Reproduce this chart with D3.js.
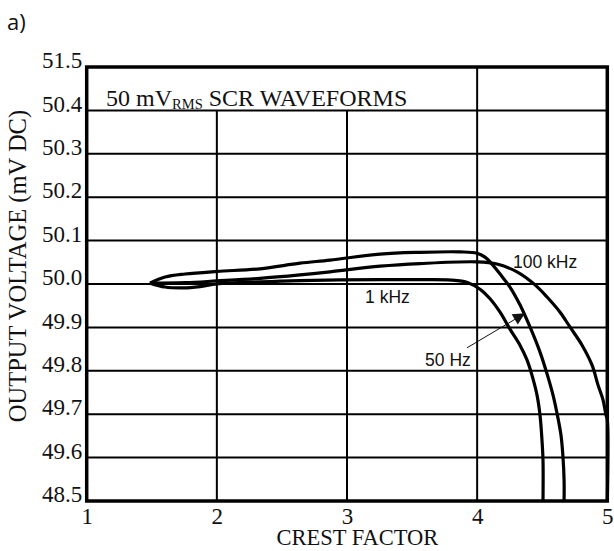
<!DOCTYPE html>
<html>
<head>
<meta charset="utf-8">
<script src="https://cdn.jsdelivr.net/npm/d3@7"></script>
<style>
  html, body { margin: 0; padding: 0; background: #fff; }
  svg { display: block; }
</style>
</head>
<body>
<svg id="chart" width="614" height="551"></svg>
<script>
// ---- Data (y is plotted on an equally spaced axis; 49.5 / 50.5 positions are labelled 48.5 / 51.5) ----
const xTicks = [1, 2, 3, 4, 5];
const yTickPositions = [49.5, 49.6, 49.7, 49.8, 49.9, 50.0, 50.1, 50.2, 50.3, 50.4, 50.5];
const yTickLabels = ["48.5", "49.6", "49.7", "49.8", "49.9", "50.0", "50.1", "50.2", "50.3", "50.4", "51.5"];

const series50Hz = [
  [1.486, 50.002], [1.602, 50.016], [1.755, 50.023], [2.001, 50.029], [2.332, 50.035],
  [2.639, 50.048], [2.869, 50.055], [3.254, 50.069], [3.561, 50.073], [3.868, 50.074],
  [3.999, 50.071], [4.060, 50.062], [4.099, 50.051], [4.176, 50.023], [4.252, 49.993],
  [4.329, 49.952], [4.406, 49.901], [4.483, 49.843], [4.544, 49.786], [4.583, 49.744],
  [4.613, 49.703], [4.644, 49.652], [4.660, 49.599], [4.668, 49.548], [4.668, 49.5]
];
const series100kHz = [
  [1.486, 50.002], [1.755, 50.003], [2.001, 50.007], [2.332, 50.013], [2.639, 50.021],
  [2.869, 50.028], [3.254, 50.041], [3.561, 50.047], [3.999, 50.051], [4.152, 50.046],
  [4.306, 50.028], [4.445, 49.998], [4.537, 49.970], [4.637, 49.935], [4.713, 49.901],
  [4.806, 49.859], [4.883, 49.813], [4.929, 49.767], [4.967, 49.733], [4.990, 49.698],
  [5.0, 49.687], [5.0, 49.5]
];
const series1kHz = [
  [1.486, 50.002], [1.602, 49.993], [1.740, 49.991], [1.871, 49.994], [2.001, 50.000],
  [2.332, 50.005], [2.639, 50.008], [3.254, 50.010], [3.561, 50.010], [3.800, 50.009],
  [3.930, 50.003], [4.022, 49.988], [4.099, 49.966], [4.176, 49.935], [4.252, 49.896],
  [4.329, 49.859], [4.383, 49.825], [4.421, 49.790], [4.460, 49.744], [4.483, 49.698],
  [4.498, 49.641], [4.506, 49.594], [4.506, 49.5]
];

const curveLabels = [
  { text: "100 kHz", x: 4.275, y: 50.037 },
  { text: "1 kHz",   x: 3.139, y: 49.956 },
  { text: "50 Hz",   x: 3.600, y: 49.811 }
];
const arrowFrom = [3.922, 49.853];
const arrowTo   = [4.360, 49.931];
const titlePos  = [1.149, 50.409];

// ---- Layout ----
const W = 614, H = 551;
const margin = { left: 86.7, right: 6.7, top: 67, bottom: 50 };
const svg = d3.select("#chart");

const x = d3.scaleLinear().domain([1, 5]).range([margin.left, W - margin.right]);
const y = d3.scaleLinear().domain([49.5, 50.5]).range([H - margin.bottom, margin.top]);

const serif = "'Liberation Serif', 'Times New Roman', serif";
const sans = "'Liberation Sans', Arial, sans-serif";

// "a)" label
svg.append("text").attr("x", 7).attr("y", 30)
  .attr("font-family", "'Open Sans', 'Noto Sans', sans-serif")
  .attr("font-size", 22).attr("fill", "#111").text("a)");

// Horizontal grid lines
svg.append("g").selectAll("line")
  .data(yTickPositions.slice(1, -1))
  .join("line")
  .attr("x1", x(1)).attr("x2", x(5))
  .attr("y1", d => y(d)).attr("y2", d => y(d))
  .attr("stroke", "#000").attr("stroke-width", 2);

// Vertical grid lines (x=2,3 stop below title row; x=4 full height)
svg.append("g").selectAll("line")
  .data(xTicks.slice(1, -1))
  .join("line")
  .attr("x1", d => x(d)).attr("x2", d => x(d))
  .attr("y1", d => d === 4 ? y(50.5) : y(50.4))
  .attr("y2", y(49.5))
  .attr("stroke", "#000").attr("stroke-width", 2);

// Curves
const line = d3.line()
  .x(d => x(d[0])).y(d => y(d[1]))
  .curve(d3.curveCatmullRom.alpha(0.5));

[series50Hz, series100kHz, series1kHz].forEach(s => {
  svg.append("path").datum(s)
    .attr("d", line)
    .attr("fill", "none")
    .attr("stroke", "#000")
    .attr("stroke-width", 3.2)
    .attr("stroke-linejoin", "round");
});

// Plot border
svg.append("rect")
  .attr("x", x(1)).attr("y", y(50.5))
  .attr("width", x(5) - x(1)).attr("height", y(49.5) - y(50.5))
  .attr("fill", "none").attr("stroke", "#000").attr("stroke-width", 3.5);

// Y axis tick labels
const yAxis = d3.axisLeft(y)
  .tickValues(yTickPositions)
  .tickFormat((d, i) => yTickLabels[i])
  .tickSize(0).tickPadding(3);
const gy = svg.append("g").attr("transform", `translate(${x(1) - 1.5},0)`).call(yAxis);
gy.select(".domain").remove();
gy.selectAll("text")
  .attr("font-family", serif).attr("font-size", 23).attr("fill", "#111")
  .attr("dy", "0.03em");

// X axis tick labels
const xAxis = d3.axisBottom(x)
  .tickValues(xTicks)
  .tickFormat(d3.format("d"))
  .tickSize(0).tickPadding(7);
const gx = svg.append("g").attr("transform", `translate(0,${y(49.5)})`).call(xAxis);
gx.select(".domain").remove();
gx.selectAll("text")
  .attr("font-family", serif).attr("font-size", 23).attr("fill", "#111");

// Axis titles
svg.append("text")
  .attr("x", x(3.08)).attr("y", 545)
  .attr("text-anchor", "middle")
  .attr("font-family", serif).attr("font-size", 22.5).attr("fill", "#111")
  .text("CREST FACTOR");

svg.append("text")
  .attr("transform", `translate(26,266) rotate(-90)`)
  .attr("text-anchor", "middle")
  .attr("font-family", serif).attr("font-size", 24.5).attr("fill", "#111")
  .text("OUTPUT VOLTAGE (mV DC)");

// Title inside plot
const title = svg.append("text")
  .attr("x", x(titlePos[0])).attr("y", y(titlePos[1]))
  .attr("font-family", serif).attr("font-size", 24).attr("fill", "#111");
title.append("tspan").text("50 mV");
title.append("tspan").attr("font-size", 14.5).attr("dy", 3).text("RMS");
title.append("tspan").attr("dy", -3).text(" SCR WAVEFORMS");

// Curve labels
svg.append("g").selectAll("text")
  .data(curveLabels)
  .join("text")
  .attr("x", d => x(d.x)).attr("y", d => y(d.y))
  .attr("font-family", sans).attr("font-size", 17.5).attr("fill", "#111")
  .text(d => d.text);

// Arrow
svg.append("defs").append("marker")
  .attr("id", "arrowhead")
  .attr("viewBox", "0 0 10 10")
  .attr("refX", 9).attr("refY", 5)
  .attr("markerUnits", "userSpaceOnUse")
  .attr("markerWidth", 14).attr("markerHeight", 12)
  .attr("orient", "auto")
  .append("path").attr("d", "M0,0 L10,5 L0,10 z").attr("fill", "#111");

svg.append("line")
  .attr("x1", x(arrowFrom[0])).attr("y1", y(arrowFrom[1]))
  .attr("x2", x(arrowTo[0])).attr("y2", y(arrowTo[1]))
  .attr("stroke", "#111").attr("stroke-width", 1)
  .attr("marker-end", "url(#arrowhead)");
</script>
</body>
</html>
